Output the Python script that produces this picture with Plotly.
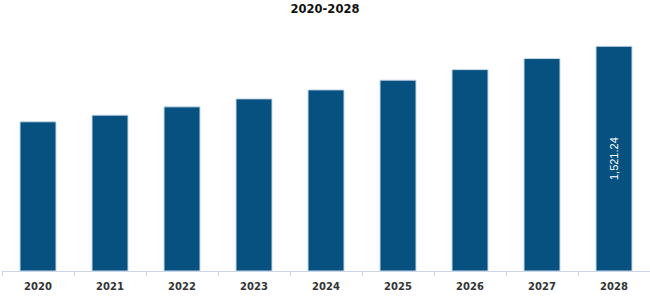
import plotly.graph_objects as go

years = ["2020", "2021", "2022", "2023", "2024", "2025", "2026", "2027", "2028"]
values = [1010, 1055, 1111, 1165, 1226, 1292, 1363, 1438, 1521.24]
labels = ["", "", "", "", "", "", "", "", "1,521.24"]
title_text = "2020-2028"

plot_top = 30
baseline = 271.5
top_bar_y = 46.3
ymax = max(values) * (baseline - plot_top) / (baseline - top_bar_y)

fig = go.Figure(go.Bar(
    x=years, y=values, text=labels,
    textposition="inside", insidetextanchor="middle", textangle=-90,
    textfont=dict(family="Liberation Sans, Arial", size=11, color="white"),
    marker=dict(color="#06517f", line=dict(color="#c9d9e6", width=1)),
    width=0.5, hoverinfo="skip",
))

fig.update_layout(
    width=650, height=298,
    margin=dict(l=2, r=0, t=plot_top, b=298 - baseline),
    paper_bgcolor="white", plot_bgcolor="white",
    showlegend=False,
    title=dict(text="<b>" + title_text + "</b>", x=0.5, xanchor="center",
               y=1 - 9 / 298, yanchor="middle",
               font=dict(family="DejaVu Sans", size=11.5, color="#111")),
    xaxis=dict(showline=True, linecolor="#ccd6eb", linewidth=1,
               ticks="outside", tickson="boundaries", ticklen=4, tickcolor="#ccd6eb",
               ticklabelstandoff=6,
               tickfont=dict(family="DejaVu Sans", size=10, color="#333"),
               showgrid=False, fixedrange=True),
    yaxis=dict(range=[0, ymax], visible=False, showgrid=False, fixedrange=True),
    uniformtext=dict(mode="show", minsize=8),
)
fig.update_xaxes(tickprefix="<b>", ticksuffix="</b>")

fig.write_html("out.html")
